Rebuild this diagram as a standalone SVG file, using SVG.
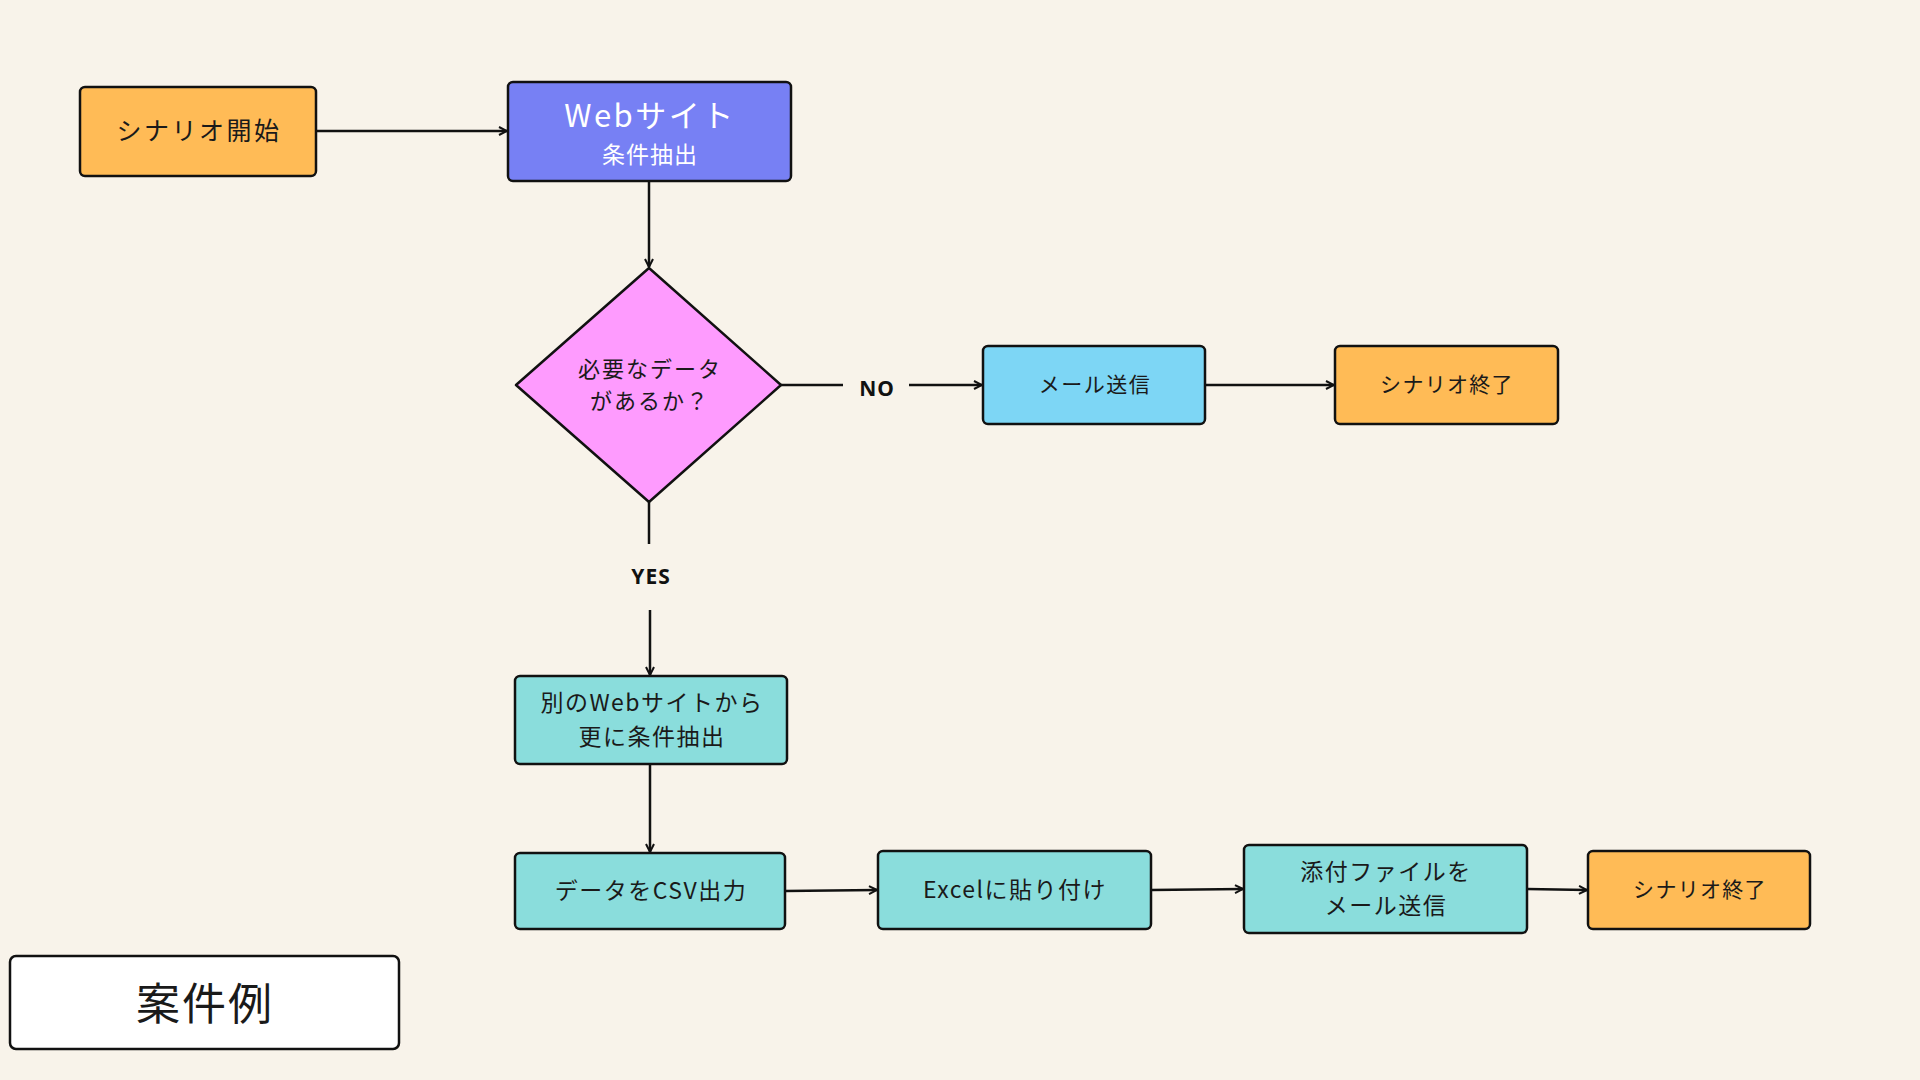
<svg xmlns="http://www.w3.org/2000/svg" width="1920" height="1080" viewBox="0 0 1920 1080">
<defs>
<style>
.box{stroke:#111;stroke-width:2.5}
.t{font-family:"Noto Sans CJK JP","Noto Sans",sans-serif;fill:#1a1a1a;text-anchor:middle;dominant-baseline:central}
.lbl{font-family:"Noto Sans","DejaVu Sans",sans-serif;font-weight:bold;font-size:21px;fill:#111;text-anchor:middle;dominant-baseline:central;letter-spacing:1px}
.c{stroke:#111;stroke-width:2.5;fill:none}
.ca{stroke:#111;stroke-width:2.5;fill:none;marker-end:url(#arr)}
</style>
<marker id="arr" viewBox="0 0 10 10" refX="9" refY="5" markerWidth="4" markerHeight="4" orient="auto" markerUnits="strokeWidth">
<path d="M1,1 L9,5 L1,9" fill="none" stroke="#111" stroke-width="2"/>
</marker>
</defs>
<rect width="1920" height="1080" fill="#F8F3EA"/>
<g id="connectors">
<line class="ca" x1="316" y1="131" x2="507" y2="131"/>
<line class="ca" x1="649" y1="181" x2="649" y2="267"/>
<line class="c" x1="781" y1="385" x2="843" y2="385"/>
<line class="ca" x1="909" y1="385" x2="982" y2="385"/>
<line class="ca" x1="1205" y1="385" x2="1334" y2="385"/>
<line class="c" x1="649" y1="502" x2="649" y2="544"/>
<line class="ca" x1="650" y1="610" x2="650" y2="675"/>
<line class="ca" x1="650" y1="764" x2="650" y2="852"/>
<line class="ca" x1="785" y1="891" x2="877" y2="890"/>
<line class="ca" x1="1151" y1="890" x2="1243" y2="889"/>
<line class="ca" x1="1527" y1="889" x2="1587" y2="890"/>
<text class="lbl" x="877" y="388">NO</text>
<text class="lbl" x="651" y="576">YES</text>
</g>
<g id="start">
<rect class="box" x="80" y="87" width="236" height="89" rx="5" fill="#FFBB56"/>
<text class="t" x="199" y="129" font-size="25" style="letter-spacing:2.5px">シナリオ開始</text>
</g>
<g id="web">
<rect class="box" x="508" y="82" width="283" height="99" rx="5" fill="#7780F4"/>
<text class="t" x="650" y="113" font-size="31" style="fill:#fff;letter-spacing:2.5px">Webサイト</text>
<text class="t" x="650" y="153" font-size="23" style="fill:#fff;letter-spacing:1px">条件抽出</text>
</g>
<g id="decision">
<polygon class="box" points="649,268 781,385 649,502 516,385" fill="#FE9BFE" stroke-linejoin="round"/>
<text class="t" x="650" y="367" font-size="22" style="letter-spacing:2px">必要なデータ</text>
<text class="t" x="650" y="399" font-size="22" style="letter-spacing:2px">があるか？</text>
</g>
<g id="mail">
<rect class="box" x="983" y="346" width="222" height="78" rx="5" fill="#7DD6F5"/>
<text class="t" x="1095" y="383" font-size="21" style="letter-spacing:1.5px">メール送信</text>
</g>
<g id="end1">
<rect class="box" x="1335" y="346" width="223" height="78" rx="5" fill="#FFBB56"/>
<text class="t" x="1447" y="383" font-size="21" style="letter-spacing:1.3px">シナリオ終了</text>
</g>
<g id="other-web">
<rect class="box" x="515" y="676" width="272" height="88" rx="5" fill="#8ADDDC"/>
<text class="t" x="652" y="701" font-size="23" style="letter-spacing:1.5px">別のWebサイトから</text>
<text class="t" x="652" y="735" font-size="23" style="letter-spacing:1.5px">更に条件抽出</text>
</g>
<g id="csv">
<rect class="box" x="515" y="853" width="270" height="76" rx="5" fill="#8ADDDC"/>
<text class="t" x="651" y="889" font-size="23" style="letter-spacing:1.5px">データをCSV出力</text>
</g>
<g id="excel">
<rect class="box" x="878" y="851" width="273" height="78" rx="5" fill="#8ADDDC"/>
<text class="t" x="1015" y="888" font-size="23" style="letter-spacing:1.5px">Excelに貼り付け</text>
</g>
<g id="attach">
<rect class="box" x="1244" y="845" width="283" height="88" rx="5" fill="#8ADDDC"/>
<text class="t" x="1386" y="870" font-size="23" style="letter-spacing:1.5px">添付ファイルを</text>
<text class="t" x="1386" y="904" font-size="23" style="letter-spacing:1.5px">メール送信</text>
</g>
<g id="end2">
<rect class="box" x="1588" y="851" width="222" height="78" rx="5" fill="#FFBB56"/>
<text class="t" x="1700" y="888" font-size="21" style="letter-spacing:1.3px">シナリオ終了</text>
</g>
<g id="legend">
<rect class="box" x="10" y="956" width="389" height="93" rx="6" fill="#FFFFFF"/>
<text class="t" x="205" y="1001" font-size="44" style="letter-spacing:2px">案件例</text>
</g>
</svg>
